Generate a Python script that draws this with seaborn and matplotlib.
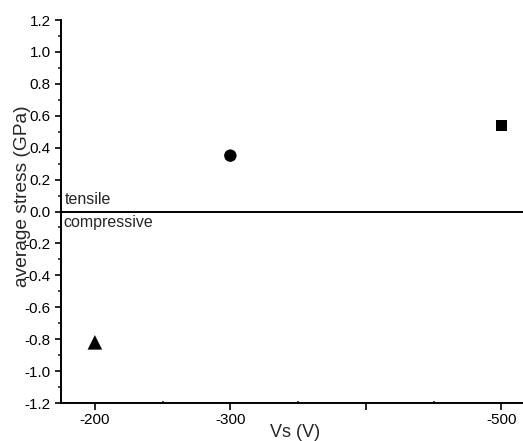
import matplotlib
matplotlib.use("Agg")
import matplotlib.pyplot as plt
import seaborn as sns
import pandas as pd
from matplotlib.ticker import FixedLocator, MultipleLocator

# substrate bias voltages and measured average film stress
bias_labels = ["-200", "-300", "-500"]
bias_magnitude = [200, 300, 500]
stress_gpa = [-0.82, 0.35, 0.54]

x_tick_values = [200, 300, 400, 500]
x_tick_labels = ["-200", "-300", "", "-500"]

sns.set_theme(style="ticks")
plt.rcParams["font.family"] = ["Liberation Sans", "DejaVu Sans"]

df = pd.DataFrame({"bias": bias_labels, "vs": bias_magnitude, "stress": stress_gpa})

fig = plt.figure(figsize=(5.23, 4.41), dpi=100)
ax = fig.add_axes([61 / 523, 1 - 403 / 441, 462 / 523, 383 / 441])

sns.scatterplot(
    data=df, x="vs", y="stress",
    style="bias", markers={"-200": "^", "-300": "o", "-500": "s"},
    size="bias", sizes={"-200": 110, "-300": 80, "-500": 64},
    color="black", edgecolor="black", linewidth=0, legend=False, ax=ax,
)

ax.axhline(0, color="black", lw=1.4, zorder=1)

ax.set_xlim(175, 516)
ax.set_ylim(-1.2, 1.2)

ax.xaxis.set_major_locator(FixedLocator(x_tick_values))
ax.set_xticklabels(x_tick_labels)
ax.xaxis.set_minor_locator(FixedLocator([250, 350, 450]))
ax.yaxis.set_major_locator(MultipleLocator(0.2))
ax.yaxis.set_minor_locator(MultipleLocator(0.1))
ax.yaxis.set_major_formatter(plt.FuncFormatter(lambda v, p: f"{v:.1f}"))

ax.tick_params(axis="both", which="major", direction="out", width=1.2,
               colors="black", labelsize=11)
ax.tick_params(axis="x", which="major", length=5, pad=2)
ax.tick_params(axis="y", which="major", length=4.5, pad=3)
ax.tick_params(axis="x", which="minor", direction="in", length=1.5, width=1.2)
ax.tick_params(axis="y", which="minor", direction="out", length=2.5, width=1.2)

for side in ("top", "right"):
    ax.spines[side].set_visible(False)
for side in ("left", "bottom"):
    ax.spines[side].set_linewidth(1.4)
    ax.spines[side].set_color("black")

ax.set_xlabel("Vs (V)", fontsize=13, va="top")
ax.set_ylabel("average stress (GPa)", fontsize=13.8)
ax.xaxis.set_label_coords(0.5076, -0.055)
ax.yaxis.set_label_coords(-0.065, 0.54)

ax.text(177.6, 0.05, "tensile", fontsize=11.5, va="baseline", ha="left")
ax.text(176.5, -0.10, "compressive", fontsize=11.5, va="baseline", ha="left")

fig.savefig("out.png", dpi=100)
